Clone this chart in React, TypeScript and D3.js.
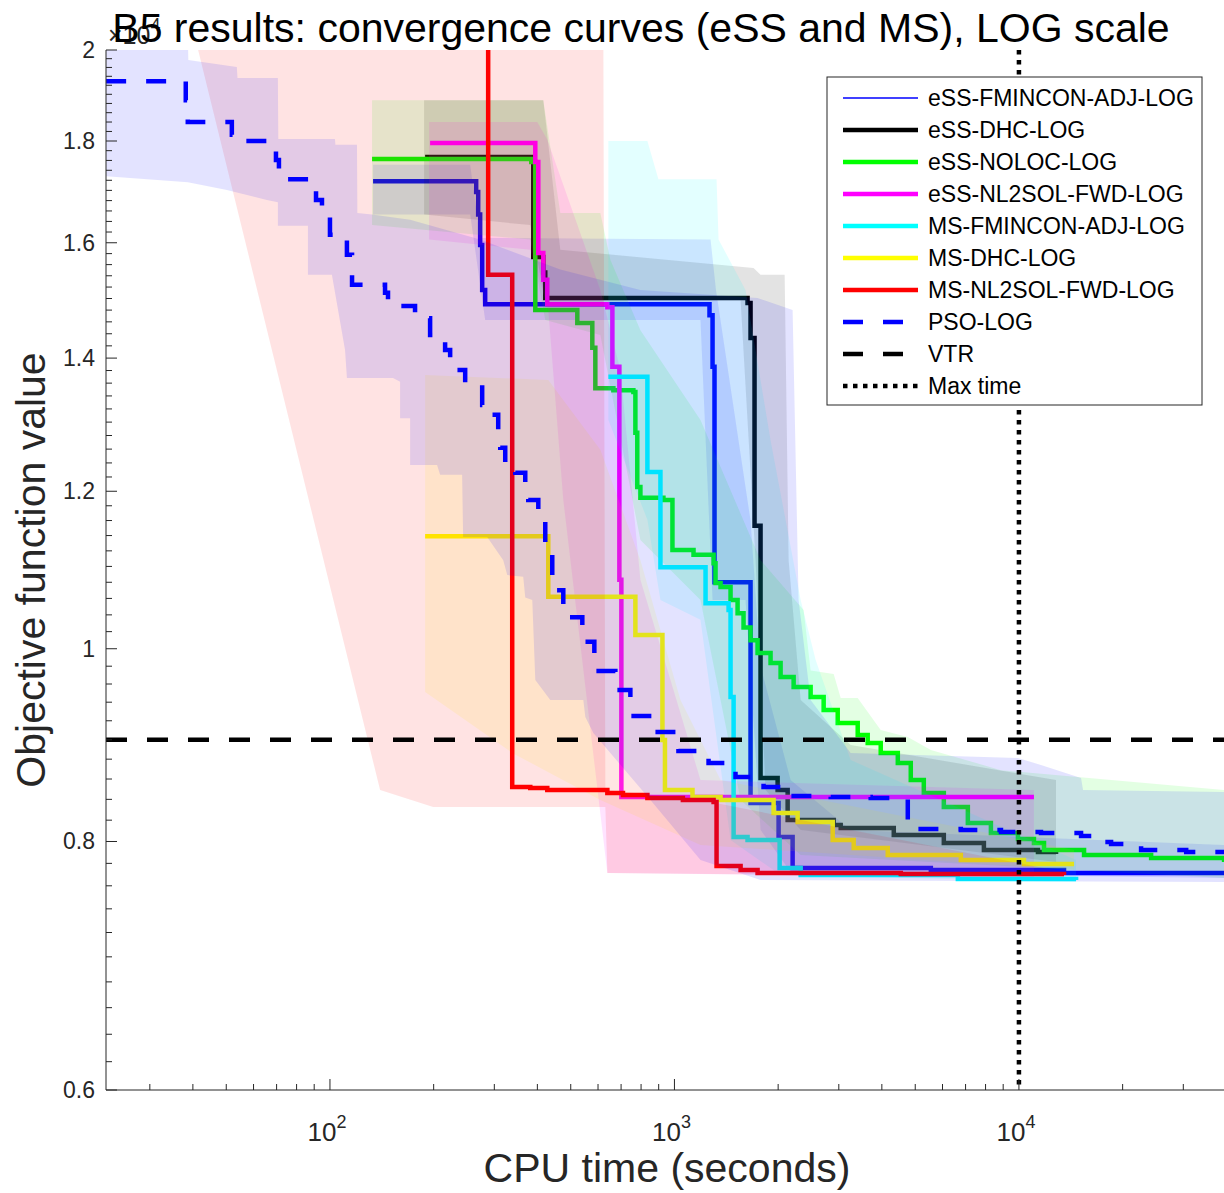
import React, { useMemo } from 'react';
import * as d3 from 'd3';

const WIDTH = 1224;
const HEIGHT = 1193;
const PLOT = { left: 106, right: 1224, top: 50, bottom: 1090 };
const FONT = '"Liberation Sans", Arial, Helvetica, sans-serif';
const AXIS_COLOR = '#262626';

// convergence curves: [CPU time (s), objective function value]
const essFminconAdj = [
  [133.4, 17180], [265.7, 16970], [269.3, 16530], [272.9, 15960], [276.6, 15150], [282.2, 14900],
  [1264, 14710], [1290, 13860], [1307, 10800], [1663, 8365], [2006, 8042], [2203, 7758],
  [5550, 7740], [13517, 7713], [39400, 7704],
];
const essDhc = [
  [188.9, 17670], [384.0, 17610], [389.2, 15740], [416.2, 15460], [421.7, 15010], [1630, 14920],
  [1663, 14330], [1708, 11530], [1778, 8610], [1993, 8491], [2131, 8201], [2899, 8154],
  [3038, 8126], [4332, 8061], [6053, 7986], [7912, 7921], [11356, 7903], [12814, 7885],
];
const essNoloc = [
  [132.5, 17630], [384.0, 17570], [394.5, 14800], [522.4, 14580], [577.5, 14170], [589.3, 13520],
  [664.8, 13490], [759.9, 13460], [770.2, 12840], [780, 12060], [796.5, 11910], [929.0, 11880],
  [986.7, 11210], [1136, 11150], [1299, 11040], [1316, 10790], [1361, 10740], [1455, 10580],
  [1525, 10420], [1587, 10250], [1663, 10100], [1743, 9951], [1901, 9836], [2033, 9678],
  [2218, 9567], [2485, 9457], [2711, 9316], [2978, 9177], [3404, 9050], [3639, 8967],
  [3970, 8864], [4450, 8761], [4853, 8590], [5295, 8462], [6053, 8326], [7107, 8173],
  [8291, 8079], [9934, 8023], [11055, 7986], [11824, 7921], [15453, 7876], [24195, 7848],
  [39400, 7812],
];
const essNl2solFwd = [
  [195.3, 17960], [394.5, 17570], [402.5, 15810], [416.2, 15330], [427.4, 14900], [638.6, 14850],
  [660.4, 13860], [692.0, 10830], [701.3, 8423], [11055, 8423],
];
const msFminconAdj = [
  [642.9, 13700], [834.6, 12270], [910.6, 10990], [1231, 10540], [1436, 10460], [1455, 9457],
  [1485, 8042], [1630, 8014], [2020, 7758], [2325, 7695], [6648, 7660], [14650, 7651],
];
const msDhc = [
  [188.9, 11390], [430.3, 10620], [770.2, 10160], [922.8, 8998], [938.5, 8491], [1128, 8423],
  [1361, 8394], [1940, 8268], [2278, 8182], [2880, 8014], [3314, 7940], [4161, 7876],
  [6782, 7830], [10340, 7794], [14454, 7794],
];
const msNl2solFwd = [
  [285.5, 25000], [287.9, 15420], [338.1, 8521], [381.5, 8511], [427.4, 8491], [638.6, 8462],
  [708.9, 8442], [834.6, 8413], [1058, 8394], [1299, 8374], [1325, 7776], [1556, 7740],
  [1743, 7713], [4540, 7704], [13517, 7695],
];
const psoLog = [
  [22.4, 19290], [38.14, 18870], [38.66, 18400], [51.9, 18130], [52.6, 18000], [69.7, 17610],
  [71.1, 17220], [91.1, 16810], [94.8, 16600], [100, 16150], [112.0, 15780], [115.9, 15240],
  [144.5, 15100], [147.4, 14970], [159.8, 14870], [176.6, 14660], [195.3, 14380], [215.9, 14130],
  [223.3, 13810], [246.9, 13650], [276.6, 13260], [291.8, 13110], [307.9, 12810], [312.1, 12620],
  [322.7, 12370], [345.1, 12260], [368.9, 12020], [376.4, 11880], [402.5, 11610], [421.7, 11150],
  [441.9, 10700], [475.7, 10370], [540.2, 10080], [585.4, 9746], [673.7, 9534], [744.8, 9251],
  [880.6, 9082], [1027, 8884], [1256, 8761], [1504, 8620], [1814, 8521], [2174, 8433],
  [2842, 8423], [3713, 8413], [4757, 8117], [6782, 8107], [8867, 8089], [11588, 8079],
  [15147, 8051], [15975, 7995], [18513, 7977], [22625, 7921], [30586, 7903], [39400, 7903],
];

// spread bands (max / min over runs)
const essFminconAdjUpper = [[133.4, 17510], [255.3, 17510], [272.9, 16090], [1273, 16060], [1320, 15150], [1663, 11600], [1778, 9800], [2174, 8590], [3248, 8107], [39400, 7968]];
const essFminconAdjLower = [[133.4, 16530], [255.3, 16530], [282.2, 14630], [1190, 14630], [1290, 10580], [1608, 10580], [1778, 8107], [2174, 7722], [39400, 7669]];
const essDhcUpper = [[187.6, 18870], [416.2, 18870], [466.3, 15870], [1697, 15540], [1778, 15420], [2089, 15420], [2145, 11080], [2325, 9424], [3248, 8946], [12814, 8590]];
const essDhcLower = [[187.6, 16530], [381.5, 16330], [421.7, 14970], [1556, 14970], [1720, 11080], [1838, 8491], [2325, 8107], [12814, 7812]];
const essNolocUpper = [[132.5, 18870], [416.2, 18870], [466.3, 16560], [609.4, 16560], [651.6, 15690], [796.5, 14460], [1190, 13030], [1778, 11080], [2371, 10460], [2485, 9750], [2899, 9713], [3038, 9446], [3404, 9446], [3970, 9103], [4757, 9029], [5550, 8895], [8867, 8689], [39400, 8491]];
const essNolocLower = [[132.5, 16330], [381.5, 16060], [421.7, 14630], [609.4, 14380], [796.5, 11340], [1190, 10580], [1556, 8394], [2325, 7876], [39400, 7669]];
const essNl2solUpper = [[194.0, 18400], [399.8, 18400], [427.4, 18030], [609.4, 15150], [696.6, 13810], [796.5, 10830], [1190, 8590], [11055, 8491]];
const essNl2solLower = [[194.0, 16060], [381.5, 15870], [430.3, 14800], [475.7, 11880], [638.6, 7713], [11055, 7669]];
const msFminconUpper = [[642.9, 18000], [834.6, 18000], [898.4, 17220], [1325, 17220], [1343, 16060], [1608, 15150], [1901, 12730], [2325, 10580], [2570, 9871], [3248, 8792], [14650, 7830]];
const msFminconLower = [[642.9, 13030], [834.6, 11610], [910.6, 10580], [1190, 10340], [1455, 8014], [2033, 7695], [14650, 7633]];
const msDhcUpper = [[188.9, 13730], [430.3, 13650], [609.4, 12590], [796.5, 11080], [1041, 9424], [1361, 8590], [14454, 7921]];
const msDhcLower = [[188.9, 9512], [338.1, 8864], [609.4, 8394], [1190, 7968], [14454, 7740]];
const msNl2solUpper = [[40.0, 20500], [621.7, 20500], [630.1, 8491], [1190, 8394], [13517, 7722]];
const msNl2solLower = [[40.0, 20500], [139.8, 8491], [199.3, 8326], [630.1, 8326], [638.6, 7713], [13517, 7678]];
const psoUpper = [
  [22.4, 20500], [38.66, 20500], [38.8, 19770], [53.66, 19610], [53.9, 19360], [70.6, 19360],
  [70.8, 18040], [103.4, 18040], [103.7, 17920], [119.8, 17920], [120.1, 16560], [132.5, 16530],
  [170.9, 16430], [272.9, 16060], [466.3, 15510], [796.5, 15150], [1743, 15010], [2203, 14800],
  [2293, 10580], [2485, 9424], [3248, 8864], [9934, 8812], [11588, 8741], [15147, 8610],
  [15350, 8491], [39400, 8472],
];
const psoLower = [
  [22.4, 17280], [38.66, 17160], [50.2, 17010], [65.6, 16810], [70.6, 16770], [70.6, 16320],
  [86.3, 16320], [86.3, 15420], [101.3, 15420], [110.6, 14130], [112.0, 13680], [152.4, 13680],
  [159.8, 13620], [159.8, 13060], [170.9, 13060], [170.9, 12370], [204.6, 12370], [208.8, 12230],
  [241.9, 12230], [243.5, 11380], [286.0, 11380], [318.4, 11080], [327.0, 10890], [363.9, 10870],
  [368.9, 10610], [386.6, 10580], [394.5, 9645], [436.1, 9424], [543.8, 9424], [551.1, 9240],
  [581.5, 9070], [851.5, 8394], [1190, 7830], [1778, 7651], [39400, 7633],
];

const VTR = 9000;
const MAX_TIME = 10000;
const timeDomain = [22.38, 39380];
const valueDomain = [6000, 20000];
const xMajorTicks = [100, 1000, 10000];
const xTickExponents = ['2', '3', '4'];
const yMajorTicks = [6000, 8000, 10000, 12000, 14000, 16000, 18000, 20000];
const yTickLabels = ['0.6', '0.8', '1', '1.2', '1.4', '1.6', '1.8', '2'];

const series = [
  { name: 'eSS-FMINCON-ADJ-LOG', color: '#0000ff', data: essFminconAdj, upper: essFminconAdjUpper, lower: essFminconAdjLower, legendWidth: 1.5 },
  { name: 'eSS-DHC-LOG', color: '#000000', data: essDhc, upper: essDhcUpper, lower: essDhcLower },
  { name: 'eSS-NOLOC-LOG', color: '#00ff00', data: essNoloc, upper: essNolocUpper, lower: essNolocLower },
  { name: 'eSS-NL2SOL-FWD-LOG', color: '#ff00ff', data: essNl2solFwd, upper: essNl2solUpper, lower: essNl2solLower },
  { name: 'MS-FMINCON-ADJ-LOG', color: '#00ffff', data: msFminconAdj, upper: msFminconUpper, lower: msFminconLower },
  { name: 'MS-DHC-LOG', color: '#ffff00', data: msDhc, upper: msDhcUpper, lower: msDhcLower },
  { name: 'MS-NL2SOL-FWD-LOG', color: '#ff0000', data: msNl2solFwd, upper: msNl2solUpper, lower: msNl2solLower },
  { name: 'PSO-LOG', color: '#0000ff', data: psoLog, upper: psoUpper, lower: psoLower, dash: '20 20' },
];

const LINE_W = 4.5;

function App() {
  const x = useMemo(() => d3.scaleLog().domain(timeDomain).range([PLOT.left, PLOT.right]), []);
  const y = useMemo(() => d3.scaleLog().domain(valueDomain).range([PLOT.bottom, PLOT.top]), []);

  const stepLine = d3.line().x(d => x(d[0])).y(d => y(d[1])).curve(d3.curveStepAfter);
  const bandLine = d3.line().x(d => x(d[0])).y(d => y(d[1]));
  const bandPath = (upper, lower) => bandLine(upper.concat([...lower].reverse())) + 'Z';

  const xMinor = [];
  [10, 100, 1000, 10000].forEach(dec => {
    for (let k = 2; k <= 9; k++) {
      const v = k * dec;
      if (v > timeDomain[0] && v < timeDomain[1]) xMinor.push(v);
    }
  });
  const yMinor = d3.range(60, 201, 2).map(i => i * 100).filter(v => !yMajorTicks.includes(v));

  const legend = { x: 827, y: 77, w: 375, h: 328, row: 32 };
  const legendItems = [
    ...series.map(s => ({ name: s.name, color: s.color, width: s.legendWidth || LINE_W, dash: s.dash })),
    { name: 'VTR', color: '#000', width: LINE_W, dash: '20 20' },
    { name: 'Max time', color: '#000', width: LINE_W, dash: '4.5 5.5' },
  ];

  return (
    <svg width={WIDTH} height={HEIGHT} style={{ position: 'absolute', left: 0, top: 0, background: '#fff' }}
      fontFamily={FONT}>
      <defs>
        <clipPath id="plotArea">
          <rect x={PLOT.left} y={PLOT.top} width={PLOT.right - PLOT.left} height={PLOT.bottom - PLOT.top} />
        </clipPath>
      </defs>
      <rect x={0} y={0} width={WIDTH} height={HEIGHT} fill="#fff" />

      <g clipPath="url(#plotArea)">
        {series.map(s => (
          <g key={s.name}>
            <path d={bandPath(s.upper, s.lower)} fill={s.color} fillOpacity={0.11} stroke="none" />
            <path d={stepLine(s.data)} fill="none" stroke={s.color} strokeWidth={LINE_W}
              strokeDasharray={s.dash} strokeLinejoin="miter" />
          </g>
        ))}
        <line x1={PLOT.left} x2={PLOT.right} y1={y(VTR)} y2={y(VTR)} stroke="#000" strokeWidth={LINE_W}
          strokeDasharray="21 20" />
        <line x1={x(MAX_TIME)} x2={x(MAX_TIME)} y1={PLOT.top} y2={PLOT.bottom} stroke="#000" strokeWidth={LINE_W}
          strokeDasharray="4.5 5.5" />
      </g>

      {/* axes */}
      <g stroke={AXIS_COLOR} strokeWidth={1}>
        <line x1={PLOT.left} x2={PLOT.left} y1={PLOT.top} y2={PLOT.bottom} />
        <line x1={PLOT.left} x2={PLOT.right} y1={PLOT.bottom} y2={PLOT.bottom} />
        {yMajorTicks.map(v => <line key={'ym' + v} x1={PLOT.left} x2={PLOT.left + 11} y1={y(v)} y2={y(v)} />)}
        {yMinor.map(v => <line key={'yn' + v} x1={PLOT.left} x2={PLOT.left + 6} y1={y(v)} y2={y(v)} />)}
        {xMajorTicks.map(v => <line key={'xm' + v} x1={x(v)} x2={x(v)} y1={PLOT.bottom} y2={PLOT.bottom - 11} />)}
        {xMinor.map(v => <line key={'xn' + v} x1={x(v)} x2={x(v)} y1={PLOT.bottom} y2={PLOT.bottom - 6} />)}
      </g>
      <g fill={AXIS_COLOR}>
        {yMajorTicks.map((v, i) => (
          <text key={'yl' + v} x={95} y={y(v) + 8} textAnchor="end" fontSize={23}>{yTickLabels[i]}</text>
        ))}
        {xMajorTicks.map((v, i) => (
          <text key={'xl' + v} x={x(v) - 3} y={1141} textAnchor="middle" fontSize={26}>
            10<tspan fontSize={18} dy={-13}>{xTickExponents[i]}</tspan>
          </text>
        ))}
        <text x={108} y={44} fontSize={25}>{'\u00d710'}<tspan fontSize={18} dy={-13}>4</tspan></text>
      </g>

      <text x={641} y={42} textAnchor="middle" fontSize={41} fill="#000">
        B5 results: convergence curves (eSS and MS), LOG scale
      </text>
      <text x={667} y={1182} textAnchor="middle" fontSize={41} fill={AXIS_COLOR}>CPU time (seconds)</text>
      <text transform="translate(45,570) rotate(-90)" textAnchor="middle" fontSize={41} fill={AXIS_COLOR}>
        Objective function value
      </text>

      {/* legend */}
      <g>
        <rect x={legend.x} y={legend.y} width={legend.w} height={legend.h} fill="#fff" stroke={AXIS_COLOR} strokeWidth={1} />
        {legendItems.map((it, i) => {
          const ly = legend.y + 21 + i * legend.row;
          return (
            <g key={it.name}>
              <line x1={843} x2={918} y1={ly} y2={ly} stroke={it.color} strokeWidth={it.width} strokeDasharray={it.dash} />
              <text x={928} y={ly + 8} fontSize={23} fill="#000">{it.name}</text>
            </g>
          );
        })}
      </g>
    </svg>
  );
}

export default App;
